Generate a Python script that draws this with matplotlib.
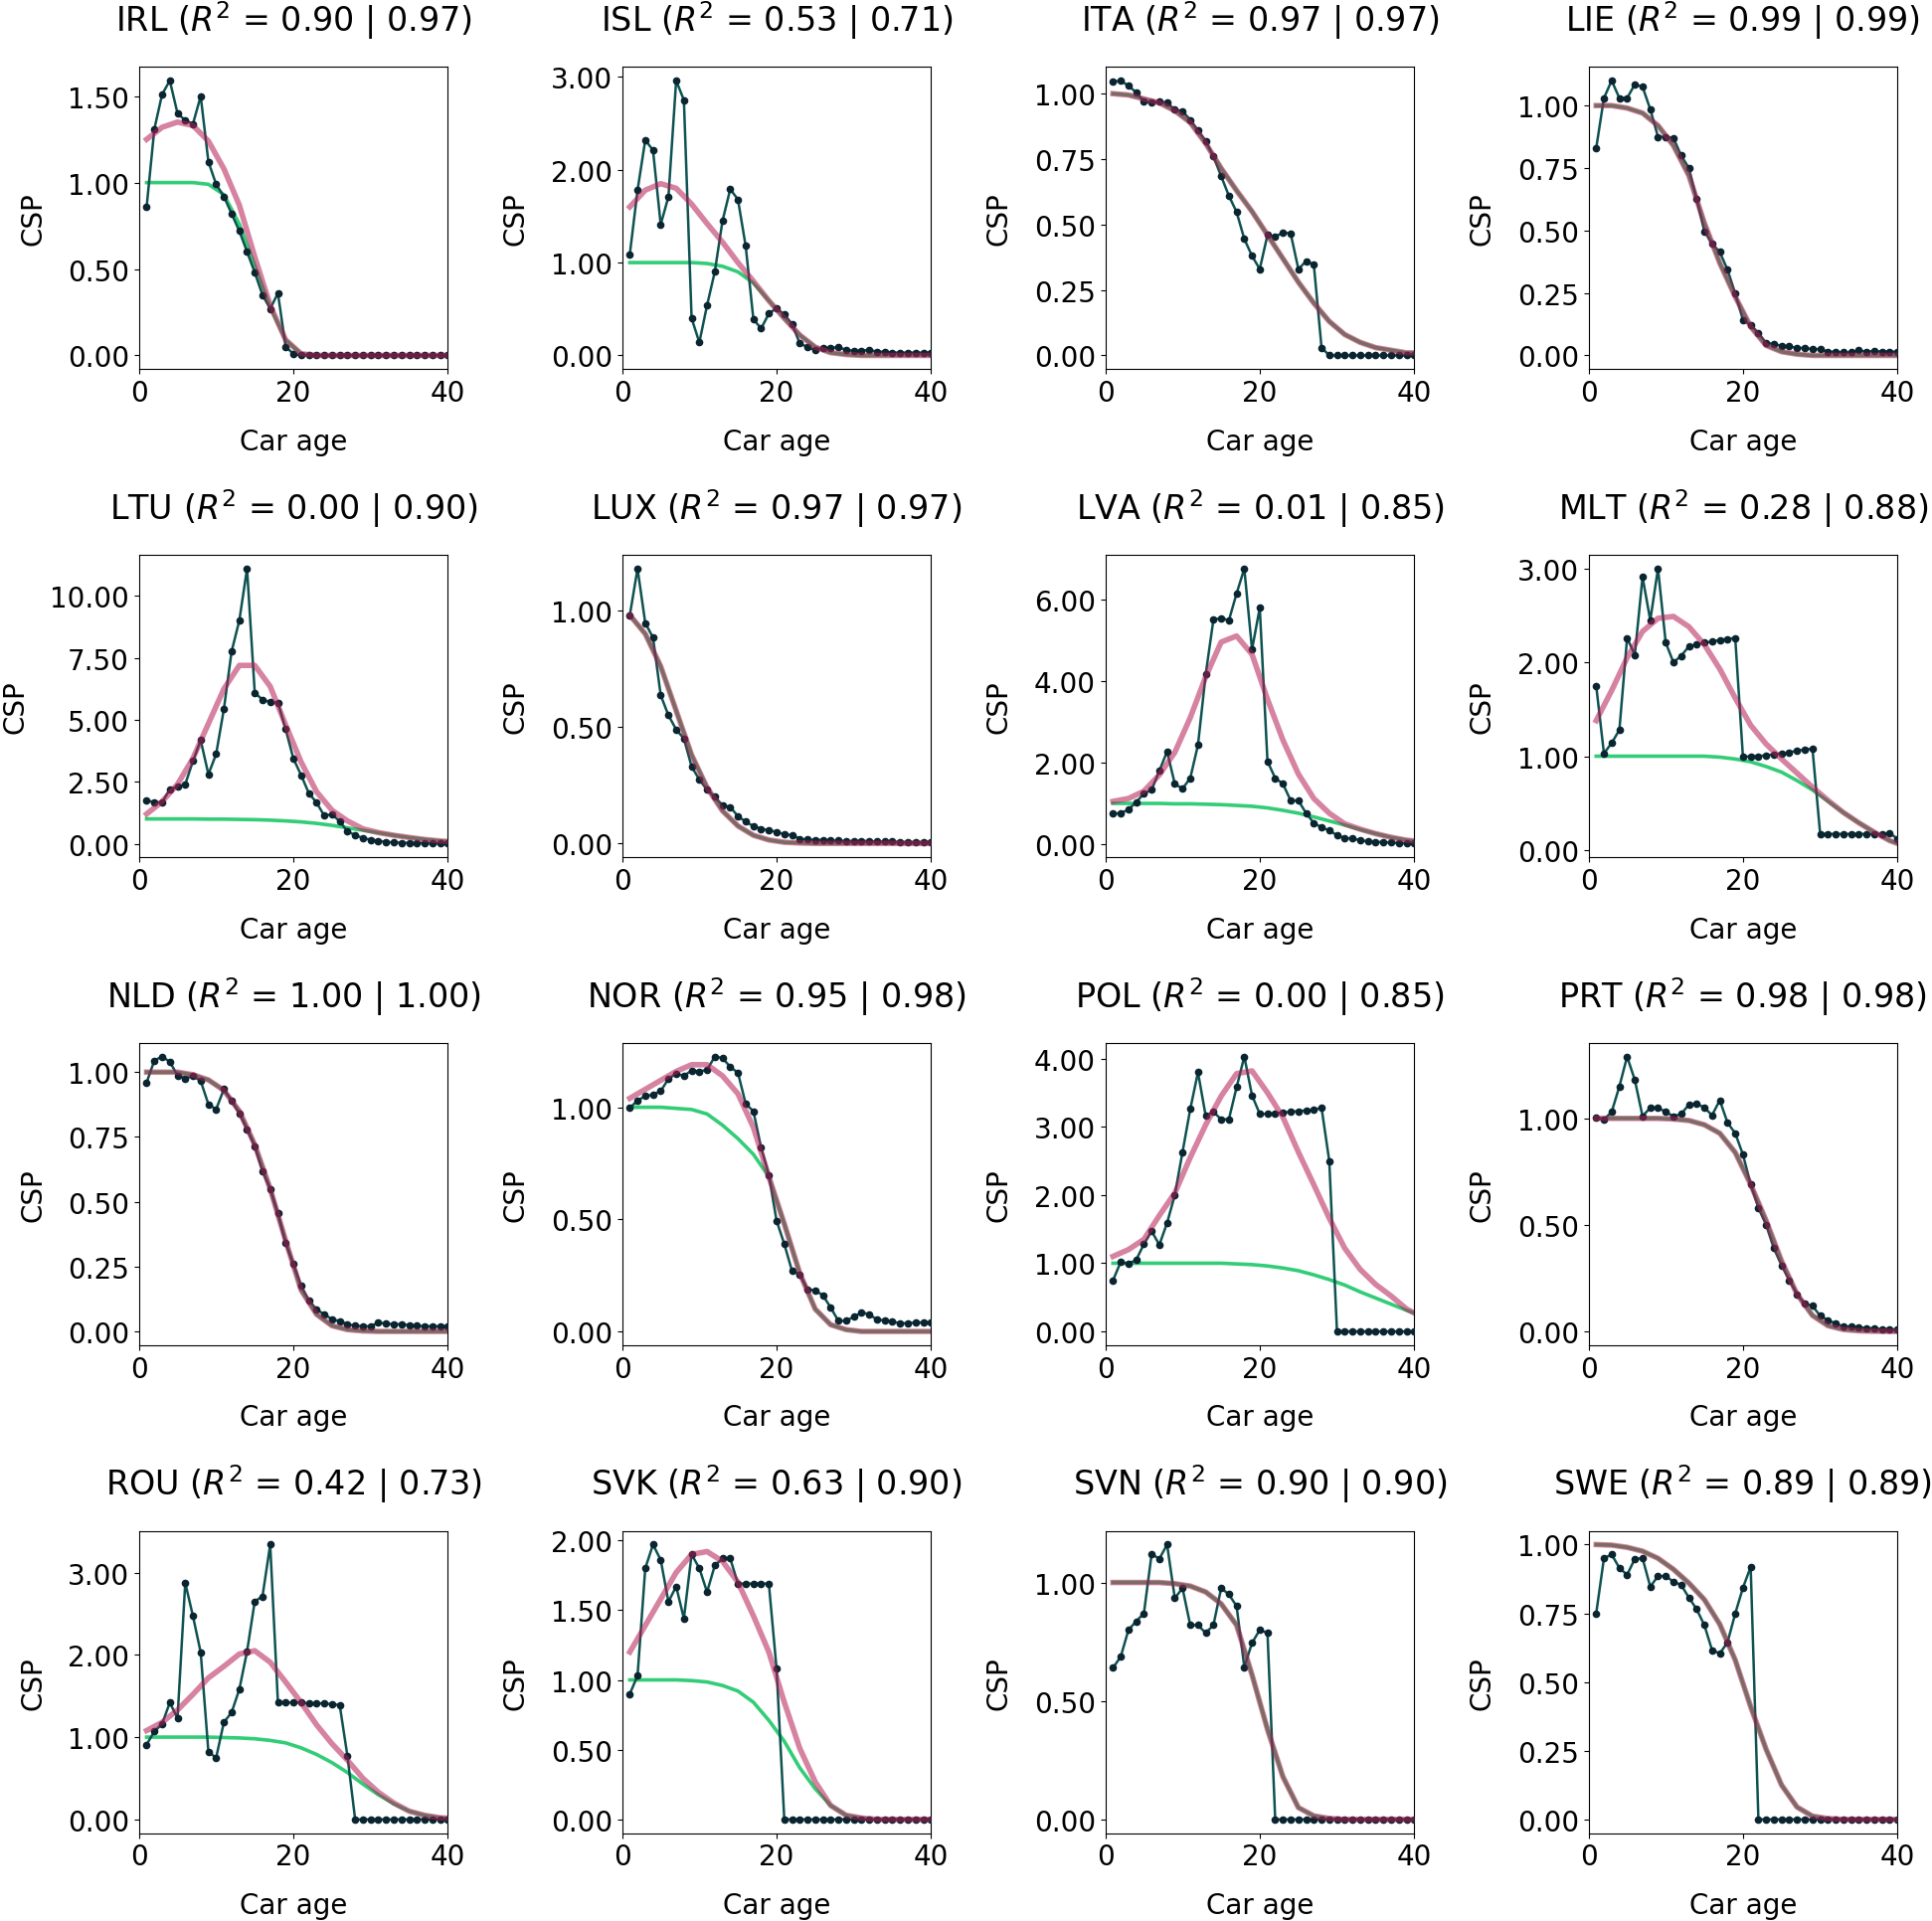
import matplotlib.pyplot as plt
from matplotlib.ticker import FormatStrFormatter

# car age of each observation and the ages where the fitted curves were read
AGE = list(range(1, 41))
FIT_AGE = [1, 3, 5, 7, 9, 11, 13, 15, 17, 19, 21, 23, 25, 27, 29, 31, 33, 35, 37, 39, 40]

COUNTRIES = ["IRL", "ISL", "ITA", "LIE", "LTU", "LUX", "LVA", "MLT",
             "NLD", "NOR", "POL", "PRT", "ROU", "SVK", "SVN", "SWE"]
R2_A = ["0.90", "0.53", "0.97", "0.99", "0.00", "0.97", "0.01", "0.28",
        "1.00", "0.95", "0.00", "0.98", "0.42", "0.63", "0.90", "0.89"]
R2_B = ["0.97", "0.71", "0.97", "0.99", "0.90", "0.97", "0.85", "0.88",
        "1.00", "0.98", "0.85", "0.98", "0.73", "0.90", "0.90", "0.89"]

# observed CSP, ages 1..40
irl = [0.86, 1.31, 1.51, 1.59, 1.40, 1.36, 1.34, 1.50, 1.12, 0.99, 0.92, 0.82, 0.72, 0.60, 0.48, 0.35, 0.27, 0.36, 0.05, 0.01,
       0, 0, 0, 0, 0, 0, 0, 0, 0, 0, 0, 0, 0, 0, 0, 0, 0, 0, 0, 0]
isl = [1.09, 1.78, 2.32, 2.21, 1.41, 1.71, 2.96, 2.75, 0.40, 0.14, 0.54, 0.90, 1.45, 1.79, 1.68, 1.18, 0.39, 0.29, 0.45, 0.51,
       0.44, 0.34, 0.13, 0.09, 0.06, 0.08, 0.08, 0.09, 0.06, 0.05, 0.05, 0.06, 0.04, 0.04, 0.03, 0.03, 0.03, 0.03, 0.03, 0.03]
ita = [1.045, 1.05, 1.03, 1.005, 0.97, 0.965, 0.97, 0.965, 0.94, 0.933, 0.90, 0.86, 0.82, 0.76, 0.685, 0.61, 0.548, 0.445, 0.38, 0.33,
       0.46, 0.453, 0.47, 0.466, 0.33, 0.36, 0.347, 0.03, 0, 0, 0, 0, 0, 0, 0, 0, 0, 0, 0, 0]
lie = [0.83, 1.03, 1.10, 1.03, 1.03, 1.085, 1.075, 0.985, 0.875, 0.875, 0.87, 0.80, 0.75, 0.626, 0.497, 0.447, 0.414, 0.343, 0.248, 0.142,
       0.122, 0.09, 0.05, 0.046, 0.038, 0.036, 0.03, 0.03, 0.025, 0.025, 0.015, 0.015, 0.012, 0.012, 0.02, 0.015, 0.018, 0.015, 0.015, 0.015]
ltu = [1.74, 1.68, 1.66, 2.20, 2.30, 2.40, 3.34, 4.18, 2.80, 3.62, 5.43, 7.76, 9.01, 11.11, 6.09, 5.82, 5.72, 5.70, 4.62, 3.44,
       2.77, 2.04, 1.66, 1.13, 1.19, 0.90, 0.50, 0.34, 0.23, 0.16, 0.12, 0.07, 0.05, 0.04, 0.03, 0.02, 0.02, 0.01, 0.01, 0.01]
lux = [0.98, 1.18, 0.946, 0.884, 0.636, 0.55, 0.489, 0.45, 0.33, 0.274, 0.23, 0.20, 0.164, 0.156, 0.117, 0.093, 0.074, 0.063, 0.056, 0.05,
       0.039, 0.036, 0.02, 0.017, 0.015, 0.015, 0.012, 0.012, 0.01, 0.01, 0.01, 0.01, 0.008, 0.008, 0.008, 0.006, 0.006, 0.006, 0.006, 0.006]
lva = [0.75, 0.76, 0.85, 1.03, 1.24, 1.33, 1.80, 2.27, 1.48, 1.36, 1.62, 2.43, 4.16, 5.50, 5.54, 5.48, 6.14, 6.75, 4.77, 5.79,
       2.03, 1.62, 1.48, 1.07, 1.07, 0.76, 0.52, 0.41, 0.34, 0.22, 0.15, 0.14, 0.10, 0.07, 0.06, 0.05, 0.04, 0.03, 0.02, 0.02]
mlt = [1.75, 1.03, 1.14, 1.28, 2.26, 2.08, 2.91, 2.45, 3.00, 2.21, 2.00, 2.07, 2.17, 2.19, 2.21, 2.22, 2.24, 2.25, 2.26, 0.99,
       1.00, 1.00, 1.01, 1.02, 1.03, 1.04, 1.06, 1.07, 1.08, 0.17, 0.17, 0.17, 0.17, 0.17, 0.17, 0.17, 0.17, 0.17, 0.18, 0.12]
nld = [0.96, 1.045, 1.06, 1.04, 0.987, 0.976, 0.985, 0.966, 0.876, 0.857, 0.934, 0.89, 0.84, 0.78, 0.714, 0.617, 0.55, 0.455, 0.34, 0.26,
       0.177, 0.12, 0.085, 0.066, 0.047, 0.04, 0.028, 0.022, 0.02, 0.02, 0.034, 0.03, 0.028, 0.028, 0.024, 0.022, 0.02, 0.02, 0.02, 0.02]
nor = [0.997, 1.03, 1.05, 1.056, 1.072, 1.127, 1.15, 1.14, 1.164, 1.16, 1.167, 1.226, 1.22, 1.18, 1.154, 1.016, 0.982, 0.82, 0.698, 0.494,
       0.39, 0.27, 0.254, 0.188, 0.183, 0.161, 0.107, 0.047, 0.047, 0.065, 0.084, 0.077, 0.052, 0.05, 0.043, 0.037, 0.036, 0.04, 0.04, 0.04]
pol = [0.75, 1.02, 0.99, 1.05, 1.28, 1.47, 1.27, 1.59, 2.00, 2.63, 3.26, 3.80, 3.16, 3.22, 3.11, 3.11, 3.58, 4.03, 3.46, 3.19,
       3.19, 3.20, 3.21, 3.22, 3.23, 3.24, 3.25, 3.28, 2.50, 0, 0, 0, 0, 0, 0, 0, 0, 0, 0, 0]
prt = [1.005, 0.995, 1.03, 1.15, 1.29, 1.18, 1.01, 1.05, 1.05, 1.03, 1.01, 1.02, 1.065, 1.07, 1.05, 1.015, 1.085, 0.98, 0.93, 0.83,
       0.69, 0.58, 0.50, 0.39, 0.31, 0.24, 0.175, 0.13, 0.12, 0.073, 0.053, 0.037, 0.023, 0.023, 0.02, 0.015, 0.015, 0.01, 0.01, 0.01]
rou = [0.91, 1.07, 1.16, 1.42, 1.23, 2.875, 2.47, 2.03, 0.82, 0.75, 1.18, 1.30, 1.58, 2.04, 2.65, 2.71, 3.34, 1.42, 1.42, 1.42,
       1.42, 1.41, 1.41, 1.41, 1.40, 1.39, 0.77, 0, 0, 0, 0, 0, 0, 0, 0, 0, 0, 0, 0, 0]
svk = [0.90, 1.03, 1.80, 1.97, 1.86, 1.56, 1.67, 1.44, 1.90, 1.80, 1.63, 1.82, 1.87, 1.87, 1.69, 1.69, 1.69, 1.69, 1.69, 1.08,
       0, 0, 0, 0, 0, 0, 0, 0, 0, 0, 0, 0, 0, 0, 0, 0, 0, 0, 0, 0]
svn = [0.64, 0.687, 0.80, 0.836, 0.87, 1.12, 1.10, 1.16, 0.934, 0.976, 0.82, 0.82, 0.787, 0.82, 0.976, 0.95, 0.90, 0.643, 0.745, 0.80,
       0.787, 0, 0, 0, 0, 0, 0, 0, 0, 0, 0, 0, 0, 0, 0, 0, 0, 0, 0, 0]
swe = [0.75, 0.95, 0.964, 0.915, 0.89, 0.948, 0.95, 0.847, 0.885, 0.885, 0.865, 0.853, 0.807, 0.765, 0.707, 0.616, 0.604, 0.644, 0.749, 0.843,
       0.919, 0, 0, 0, 0, 0, 0, 0, 0, 0, 0, 0, 0, 0, 0, 0, 0, 0, 0, 0]

# fitted curves read at FIT_AGE: pink = scaled fit, green = plain survival fit
irl_pink = [1.25, 1.32, 1.35, 1.33, 1.24, 1.08, 0.87, 0.57, 0.29, 0.09, 0.01, 0, 0, 0, 0, 0, 0, 0, 0, 0, 0]
irl_green = [1.0, 1.0, 1.0, 1.0, 0.99, 0.93, 0.76, 0.52, 0.28, 0.09, 0.01, 0, 0, 0, 0, 0, 0, 0, 0, 0, 0]
isl_pink = [1.60, 1.78, 1.85, 1.80, 1.63, 1.42, 1.22, 1.00, 0.80, 0.59, 0.40, 0.22, 0.09, 0.03, 0.01, 0, 0, 0, 0, 0, 0]
isl_green = [1.0, 1.0, 1.0, 1.0, 1.0, 0.99, 0.96, 0.90, 0.78, 0.59, 0.40, 0.22, 0.09, 0.03, 0.01, 0, 0, 0, 0, 0, 0]
ita_fit = [1.0, 0.995, 0.98, 0.965, 0.935, 0.89, 0.81, 0.715, 0.63, 0.55, 0.46, 0.37, 0.28, 0.20, 0.13, 0.08, 0.05, 0.03, 0.02, 0.01, 0.01]
lie_fit = [1.0, 1.0, 0.99, 0.97, 0.92, 0.84, 0.72, 0.53, 0.37, 0.235, 0.115, 0.04, 0.015, 0.005, 0, 0, 0, 0, 0, 0, 0]
ltu_pink = [1.20, 1.70, 2.40, 3.45, 4.85, 6.25, 7.20, 7.20, 6.35, 4.80, 3.30, 2.10, 1.35, 0.92, 0.60, 0.45, 0.34, 0.25, 0.17, 0.11, 0.09]
ltu_green = [1.0, 1.0, 1.0, 1.0, 0.99, 0.99, 0.98, 0.97, 0.95, 0.92, 0.88, 0.82, 0.74, 0.64, 0.54, 0.44, 0.34, 0.25, 0.17, 0.11, 0.09]
lux_fit = [0.98, 0.90, 0.76, 0.57, 0.38, 0.24, 0.14, 0.075, 0.035, 0.015, 0.005, 0.002, 0, 0, 0, 0, 0, 0, 0, 0, 0]
lva_pink = [1.05, 1.12, 1.30, 1.70, 2.25, 3.10, 4.10, 4.95, 5.10, 4.65, 3.55, 2.55, 1.72, 1.12, 0.76, 0.50, 0.37, 0.26, 0.17, 0.10, 0.08]
lva_green = [1.0, 1.0, 1.0, 1.0, 0.99, 0.99, 0.98, 0.97, 0.95, 0.93, 0.89, 0.83, 0.76, 0.67, 0.57, 0.47, 0.36, 0.26, 0.17, 0.10, 0.08]
mlt_pink = [1.38, 1.70, 2.05, 2.33, 2.47, 2.49, 2.38, 2.19, 1.93, 1.62, 1.33, 1.13, 0.97, 0.82, 0.67, 0.53, 0.40, 0.29, 0.19, 0.10, 0.07]
mlt_green = [1.0, 1.0, 1.0, 1.0, 1.0, 1.0, 1.0, 1.0, 0.99, 0.97, 0.94, 0.89, 0.83, 0.74, 0.64, 0.52, 0.40, 0.29, 0.19, 0.10, 0.07]
nld_fit = [1.0, 1.0, 1.0, 0.99, 0.97, 0.93, 0.85, 0.72, 0.55, 0.35, 0.16, 0.066, 0.022, 0.007, 0.002, 0, 0, 0, 0, 0, 0]
nor_pink = [1.04, 1.08, 1.12, 1.16, 1.19, 1.19, 1.14, 1.06, 0.91, 0.69, 0.48, 0.26, 0.10, 0.03, 0.008, 0, 0, 0, 0, 0, 0]
nor_green = [1.0, 1.0, 1.0, 0.995, 0.99, 0.97, 0.92, 0.86, 0.79, 0.69, 0.48, 0.26, 0.10, 0.03, 0.008, 0, 0, 0, 0, 0, 0]
pol_pink = [1.10, 1.20, 1.35, 1.70, 2.03, 2.55, 3.03, 3.45, 3.78, 3.82, 3.50, 3.14, 2.63, 2.15, 1.66, 1.22, 0.91, 0.69, 0.52, 0.33, 0.27]
pol_green = [1.0, 1.0, 1.0, 1.0, 1.0, 1.0, 1.0, 1.0, 0.99, 0.98, 0.96, 0.93, 0.89, 0.83, 0.76, 0.68, 0.58, 0.49, 0.40, 0.31, 0.27]
prt_fit = [1.0, 1.0, 1.0, 1.0, 1.0, 0.997, 0.99, 0.97, 0.93, 0.84, 0.69, 0.52, 0.33, 0.175, 0.075, 0.027, 0.009, 0.003, 0.001, 0, 0]
rou_pink = [1.08, 1.18, 1.33, 1.52, 1.72, 1.86, 2.01, 2.05, 1.91, 1.67, 1.42, 1.15, 0.92, 0.72, 0.50, 0.33, 0.20, 0.10, 0.05, 0.02, 0.015]
rou_green = [1.0, 1.0, 1.0, 1.0, 1.0, 0.995, 0.99, 0.98, 0.96, 0.93, 0.87, 0.79, 0.69, 0.57, 0.43, 0.30, 0.19, 0.10, 0.05, 0.02, 0.015]
svk_pink = [1.20, 1.39, 1.58, 1.77, 1.90, 1.92, 1.85, 1.70, 1.46, 1.20, 0.84, 0.51, 0.27, 0.10, 0.03, 0.01, 0, 0, 0, 0, 0]
svk_green = [1.0, 1.0, 1.0, 1.0, 0.995, 0.985, 0.96, 0.92, 0.84, 0.71, 0.56, 0.37, 0.22, 0.10, 0.03, 0.01, 0, 0, 0, 0, 0]
svn_fit = [1.0, 1.0, 1.0, 1.0, 0.995, 0.985, 0.96, 0.91, 0.82, 0.61, 0.38, 0.18, 0.05, 0.015, 0.004, 0, 0, 0, 0, 0, 0]
swe_fit = [1.0, 0.998, 0.99, 0.976, 0.95, 0.91, 0.86, 0.80, 0.71, 0.58, 0.41, 0.255, 0.125, 0.045, 0.012, 0.003, 0, 0, 0, 0, 0]

OBSERVED = [irl, isl, ita, lie, ltu, lux, lva, mlt, nld, nor, pol, prt, rou, svk, svn, swe]
PINK = [irl_pink, isl_pink, ita_fit, lie_fit, ltu_pink, lux_fit, lva_pink, mlt_pink,
        nld_fit, nor_pink, pol_pink, prt_fit, rou_pink, svk_pink, svn_fit, swe_fit]
GREEN = [irl_green, isl_green, ita_fit, lie_fit, ltu_green, lux_fit, lva_green, mlt_green,
         nld_fit, nor_green, pol_green, prt_fit, rou_green, svk_green, svn_fit, swe_fit]

YTICKS = [[0, 0.5, 1.0, 1.5], [0, 1, 2, 3], [0, 0.25, 0.5, 0.75, 1.0], [0, 0.25, 0.5, 0.75, 1.0],
          [0, 2.5, 5, 7.5, 10], [0, 0.5, 1.0], [0, 2, 4, 6], [0, 1, 2, 3],
          [0, 0.25, 0.5, 0.75, 1.0], [0, 0.5, 1.0], [0, 1, 2, 3, 4], [0, 0.5, 1.0],
          [0, 1, 2, 3], [0, 0.5, 1.0, 1.5, 2.0], [0, 0.5, 1.0], [0, 0.25, 0.5, 0.75, 1.0]]

plt.rcParams['font.size'] = 20

fig = plt.figure(figsize=(19.43, 19.33))

for i, c in enumerate(COUNTRIES):
    row, col = divmod(i, 4)
    ax = fig.add_axes([0.0719 + col * 0.2501, 0.8074 - row * 0.2539, 0.1599, 0.1573])
    ax.plot(FIT_AGE, GREEN[i], color='#33cc77', lw=2.6, zorder=2)
    ax.plot(AGE, OBSERVED[i], color='#0f5252', lw=1.8, marker='o', ms=4.5,
            mfc='#0a2530', mec='#0a2530', zorder=3)
    ax.plot(FIT_AGE, PINK[i], color='#b51c54', alpha=0.55, lw=4.0, zorder=4)
    ax.set_xlim(0, 40)
    ax.set_xticks([0, 20, 40])
    ax.set_yticks(YTICKS[i])
    ax.yaxis.set_major_formatter(FormatStrFormatter('%.2f'))
    ax.set_xlabel("Car age", labelpad=15)
    ax.set_ylabel("CSP", labelpad=15)
    ax.set_title(f"{c} ($R^2$ = {R2_A[i]} | {R2_B[i]})", fontsize=24, pad=26)

fig.savefig("out.png", dpi=100)
